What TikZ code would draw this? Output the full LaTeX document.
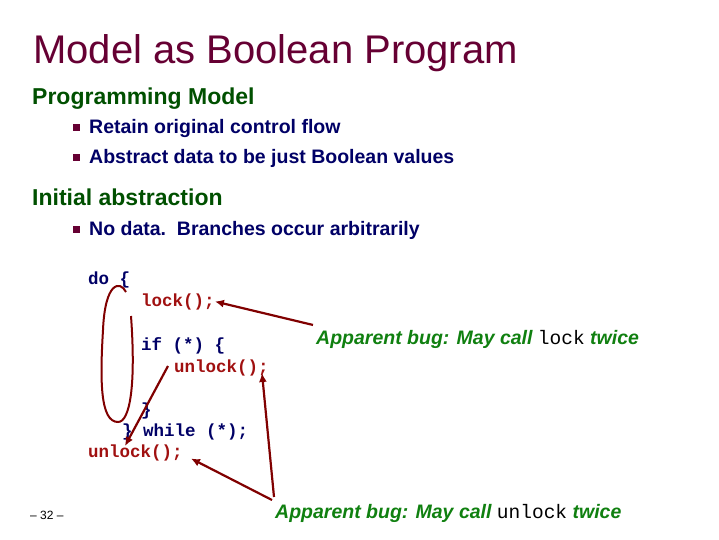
\documentclass[tikz,border=0pt]{standalone}
\usepackage{fontspec}
\setmainfont{Liberation Sans}
\setmonofont{Liberation Mono}
\usetikzlibrary{arrows.meta}
\definecolor{title}{HTML}{660033}
\definecolor{head}{HTML}{005000}
\definecolor{navy}{HTML}{000066}
\definecolor{red1}{HTML}{A01010}
\definecolor{arr}{HTML}{800000}
\definecolor{grn}{HTML}{108010}
\begin{document}
\begin{tikzpicture}[x=1pt,y=-1pt,
  t/.style={anchor=base west,inner sep=0pt},
  bul/.style={t,font=\bfseries\fontsize{19.5}{19.5}\selectfont,text=navy},
  code/.style={t,font=\ttfamily\bfseries\fontsize{17.5}{18}\selectfont,text=navy},
  rcode/.style={code,text=red1},
  lab/.style={t,font=\bfseries\itshape\fontsize{19.5}{19.5}\selectfont,text=grn},
  sq/.style={fill=title,minimum size=7pt,inner sep=0pt},
  ar/.style={draw=arr,line width=2.2pt,-{Latex[length=9pt,width=8pt]}}]
\useasboundingbox (0,0) rectangle (719,539);
\node[t,font=\fontsize{40}{40}\selectfont,text=title] (ti) at (33,63) {Model as Boolean Program};
\node[t,font=\bfseries\fontsize{23}{23}\selectfont,text=head] (h1) at (32,104) {Programming Model};
\node[sq] (s1) at (76,127) {}; \node[bul] (b1) at (89,133) {Retain original control flow};
\node[sq] (s2) at (76,157) {}; \node[bul] (b2) at (89,163) {Abstract data to be just Boolean values};
\node[t,font=\bfseries\fontsize{23}{23}\selectfont,text=head] (h2) at (32,205) {Initial abstraction};
\node[sq] (s3) at (76,229) {}; \node[bul] (b3) at (89,235) {No data.\ \ Branches occur arbitrarily};
\node[code] (c1) at (88,284) {do \{};
\node[rcode] (c2) at (141,306) {lock();};
\node[code] (c3) at (141,350) {if (*) \{};
\node[rcode] (c4) at (174,372) {unlock();};
\node[code] (c5) at (141,415) {\}};
\node[code] (c6) at (122,436) {\} while (*);};
\node[rcode] (c7) at (88,457) {unlock();};
\node[lab] (l1) at (316,344) {Apparent bug: May call {\ttfamily\upshape\mdseries\color{black}lock} twice};
\node[lab] (l2) at (275,518) {Apparent bug: May call {\ttfamily\upshape\mdseries\color{black}unlock} twice};
\node[t,font=\fontsize{12}{12}\selectfont] (pg) at (30,519) {– 32 –};
\coordinate (e1) at (131,316);
\draw[arr,line width=2pt] (e1) .. controls (136,385) and (130,422) .. (118,422)
  .. controls (100,422) and (100,380) .. (103,330)
  .. controls (105,282) and (120,280) .. (126,292);
\draw[ar] (l1.west)++(-3,-14) coordinate (a1) (a1) -- (c2.east);
\coordinate (a2) at (272,500);
\coordinate (a3) at (274,497);
\draw[ar] (a2) -- ([xshift=8pt,yshift=-6pt]c7.east);
\draw[ar] (a3) -- (262,373);
\draw[ar] (168,366) -- (125,446);
\end{tikzpicture}
\end{document}
